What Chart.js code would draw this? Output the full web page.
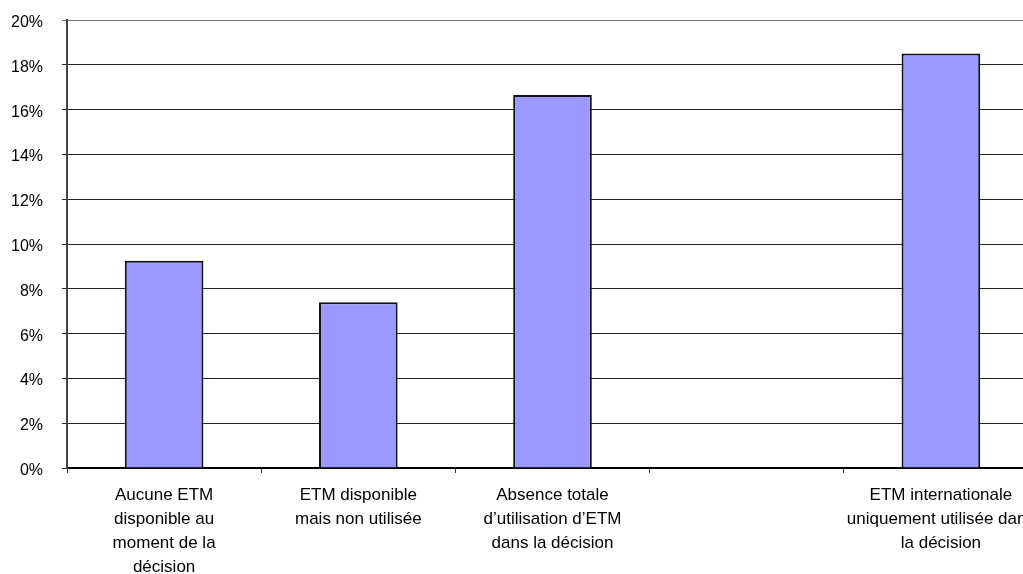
<!DOCTYPE html>
<html>
<head>
<meta charset="utf-8">
<script src="https://cdn.jsdelivr.net/npm/chart.js@4/dist/chart.umd.min.js"></script>
<style>
  html, body { margin: 0; padding: 0; background: #fff; overflow: hidden; }
  #wrap { position: relative; width: 1038px; height: 574px; }
</style>
</head>
<body>
<div id="wrap"><canvas id="c"></canvas></div>
<script>
// Categories (multi-line labels), one empty slot between the 3rd and last bar
const categories = [
  ['Aucune ETM', 'disponible au', 'moment de la', 'décision'],
  ['ETM disponible', 'mais non utilisée'],
  ['Absence totale', 'd\u2019utilisation d\u2019ETM', 'dans la décision'],
  '',
  ['ETM internationale', 'uniquement utilisée dans', 'la décision']
];
// Share of cases, in percent
const shares = [9.25, 7.4, 16.65, null, 18.5];
// Y axis range and step, in percent
const yMin = 0;
const yMax = 20;
const yStep = 2;

const FONT = "'Liberation Sans', Arial, sans-serif";

new Chart(document.getElementById('c'), {
  type: 'bar',
  data: {
    labels: categories,
    datasets: [{
      data: shares,
      backgroundColor: '#9999FF',
      borderColor: '#111111',
      borderWidth: 2,
      categoryPercentage: 1.0,
      barPercentage: 0.405
    }]
  },
  options: {
    responsive: true,
    maintainAspectRatio: false,
    animation: false,
    layout: { padding: { top: 20, left: 0, right: 0, bottom: 0 } },
    plugins: { legend: { display: false }, tooltip: { enabled: false } },
    scales: {
      x: {
        offset: true,
        grid: { drawOnChartArea: false, drawTicks: true, tickLength: 5, color: '#333', offset: true },
        border: { display: true, color: '#000', width: 2 },
        ticks: {
          autoSkip: false, maxRotation: 0, minRotation: 0, padding: 10,
          color: '#000',
          font: { family: FONT, size: 17, lineHeight: 1.42 }
        },
        afterFit: (s) => { s.height = 106; s.paddingLeft = 0; s.paddingRight = 0; }
      },
      y: {
        min: yMin, max: yMax,
        ticks: {
          stepSize: yStep, padding: 19, color: '#000', labelOffset: 2.5,
          font: { family: FONT, size: 16 },
          callback: (v) => v + '%'
        },
        grid: { color: (ctx) => ctx.tick && ctx.tick.value === yMax ? '#777' : '#222', lineWidth: 1, tickLength: 5, drawTicks: true },
        border: { display: true, color: '#444', width: 2 },
        afterFit: (s) => { s.width = 67; s.paddingTop = 0; s.paddingBottom = 0; }
      }
    }
  }
});
</script>
</body>
</html>
